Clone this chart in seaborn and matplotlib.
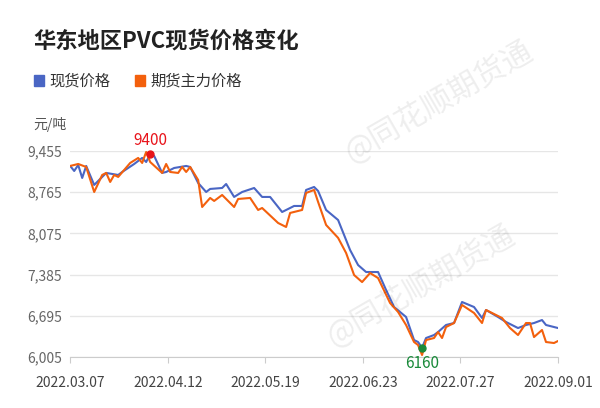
import matplotlib
matplotlib.use("Agg")
import matplotlib.pyplot as plt
import seaborn as sns
import pandas as pd

sns.set_style("white")
plt.rcParams['font.family'] = ['Noto Sans CJK SC', 'DejaVu Sans']

# trading-day index and prices
spot_x = [0, 1, 2, 3, 4, 6, 8, 9, 12, 13, 16, 18, 19, 20, 21, 23, 24, 26, 29, 30, 32, 34, 35, 38, 39, 41, 43, 46, 48, 50, 53, 56, 58, 59, 61, 62, 64, 67, 70, 72, 74, 77, 79, 81, 84, 86, 87, 88, 89, 91, 92, 94, 96, 98, 101, 103, 104, 107, 109, 112, 114, 116, 118, 119, 122]
spot_y = [9204, 9120, 9220, 9003, 9204, 8886, 9020, 9087, 9053, 9103, 9237, 9338, 9270, 9400, 9371, 9087, 9103, 9170, 9204, 9187, 8919, 8768, 8819, 8835, 8902, 8685, 8768, 8835, 8685, 8685, 8433, 8534, 8534, 8802, 8852, 8785, 8467, 8299, 7797, 7545, 7428, 7428, 7127, 6842, 6675, 6289, 6256, 6160, 6323, 6373, 6423, 6541, 6574, 6926, 6842, 6658, 6792, 6675, 6591, 6490, 6541, 6574, 6624, 6541, 6490]
fut_x = [0, 2, 4, 6, 8, 9, 10, 11, 12, 15, 17, 18, 19, 20, 23, 24, 25, 27, 28, 29, 30, 32, 33, 35, 36, 38, 41, 42, 45, 47, 48, 52, 54, 55, 58, 59, 61, 62, 64, 67, 69, 71, 73, 75, 77, 80, 82, 84, 86, 87, 88, 89, 91, 92, 93, 94, 96, 98, 101, 103, 104, 108, 110, 112, 114, 115, 116, 118, 119, 121, 122]
fut_y = [9204, 9237, 9187, 8768, 9053, 9087, 8936, 9053, 9020, 9254, 9338, 9254, 9438, 9270, 9087, 9237, 9103, 9087, 9187, 9103, 9187, 8969, 8517, 8668, 8618, 8718, 8517, 8651, 8668, 8467, 8500, 8249, 8182, 8417, 8467, 8752, 8802, 8601, 8216, 8000, 7747, 7378, 7260, 7411, 7327, 6909, 6759, 6541, 6256, 6206, 6038, 6289, 6323, 6423, 6323, 6507, 6574, 6876, 6742, 6574, 6792, 6658, 6490, 6373, 6574, 6574, 6339, 6457, 6256, 6239, 6273]
tick_pos = [0, 24.4, 48.8, 73.2, 97.6, 122]
tick_labels = ["2022.03.07", "2022.04.12", "2022.05.19", "2022.06.23", "2022.07.27", "2022.09.01"]
y_ticks = [6005, 6695, 7385, 8075, 8765, 9455]

blue = "#4a66c4"
orange = "#f3600d"

fig = plt.figure(figsize=(6, 4.08), dpi=100)
ax = fig.add_axes([0.117, 0.125, 0.813, 0.505])
sns.lineplot(x=spot_x, y=spot_y, ax=ax, color=blue, lw=1.5)
sns.lineplot(x=fut_x, y=fut_y, ax=ax, color=orange, lw=1.5)

ax.set_xlim(0, 122)
ax.set_ylim(6005, 9455)
ax.set_yticks(y_ticks)
ax.set_yticklabels([f"{v:,}" for v in y_ticks], color="#666666", fontsize=10)
ax.set_xticks(tick_pos)
ax.set_xticklabels(tick_labels, color="#444444", fontsize=10)
ax.tick_params(axis="y", length=0, pad=6)
ax.tick_params(axis="x", length=4, color="#cccccc", pad=10, bottom=True)
ax.grid(axis="y", color="#e6e6e6", lw=1)
for s in ["top", "right", "left"]:
    ax.spines[s].set_visible(False)
ax.spines["bottom"].set_color("#cccccc")

# max / min markers on spot
imax = spot_y.index(max(spot_y))
imin = spot_y.index(min(spot_y))
ax.plot(spot_x[imax], spot_y[imax], "o", color="#e8141b", ms=5, clip_on=False)
ax.annotate(str(spot_y[imax]), (spot_x[imax], spot_y[imax]), xytext=(0, 4),
            textcoords="offset points", ha="center", va="bottom", color="#e8141b", fontsize=11)
ax.plot(spot_x[imin], spot_y[imin], "o", color="#1a8a3a", ms=5, clip_on=False)
ax.annotate(str(spot_y[imin]), (spot_x[imin], spot_y[imin]), xytext=(0, -5),
            textcoords="offset points", ha="center", va="top", color="#1a8a3a", fontsize=11)

fig.text(0.055, 0.9, "华东地区PVC现货价格变化", fontsize=16, fontweight="bold", color="#222222", va="center")
fig.patches.append(plt.Rectangle((0.057, 0.79), 0.017, 0.025, transform=fig.transFigure, color=blue))
fig.text(0.083, 0.802, "现货价格", fontsize=11, color="#333333", va="center")
fig.patches.append(plt.Rectangle((0.225, 0.79), 0.017, 0.025, transform=fig.transFigure, color=orange))
fig.text(0.25, 0.802, "期货主力价格", fontsize=11, color="#333333", va="center")
fig.text(0.055, 0.695, "元/吨", fontsize=10, color="#555555", va="center")

for wx, wy in [(0.73, 0.75), (0.7, 0.3)]:
    fig.text(wx, wy, "@同花顺期货通", fontsize=22, color="#000000", alpha=0.07,
             rotation=30, ha="center", va="center")

fig.savefig("out.png", dpi=100)
